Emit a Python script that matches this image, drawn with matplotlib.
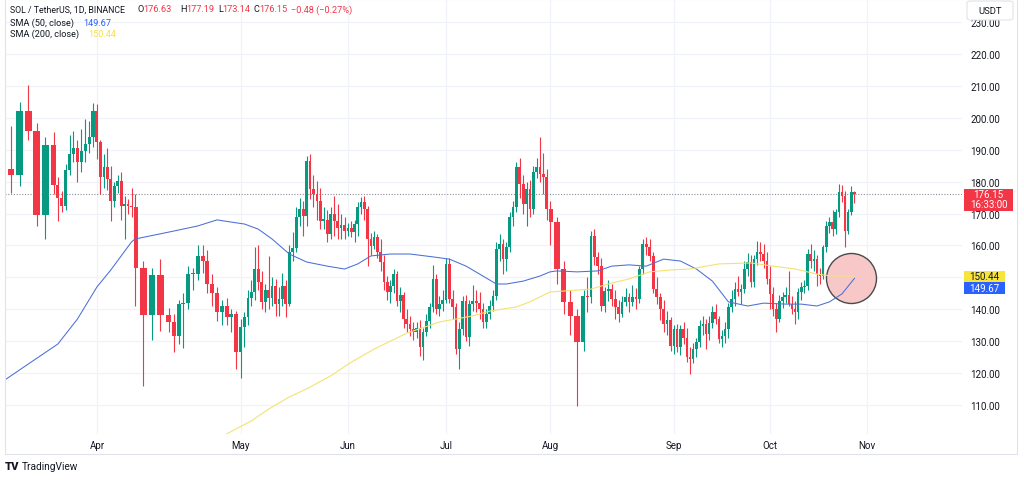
import numpy as np
import pandas as pd
import matplotlib
matplotlib.use('Agg')
import matplotlib.pyplot as plt
import matplotlib.dates as mdates
from matplotlib import transforms
from matplotlib.patches import Rectangle, FancyBboxPatch

plt.rcParams['font.family'] = ['Roboto', 'DejaVu Sans']

# SOL / TetherUS daily candles, 16 Mar - 28 Oct 2024
dates = pd.date_range('2024-03-16', '2024-10-28', freq='D')

opens = [
    184.0, 182.0, 202.0, 196.0, 169.5, 191.5, 179.0, 175.0, 172.5, 183.5, 188.5, 190.5, 186.0, 189.5, 191.8, 194.0,
    202.2, 192.4, 181.3, 184.7, 180.8, 174.0, 178.5, 180.3, 172.2, 173.0, 172.4, 172.0, 152.8, 138.2, 150.8,
    138.2, 136.0, 131.7, 141.6, 142.0, 150.9, 151.0, 156.8, 155.0, 147.8, 145.0, 139.1, 141.0, 137.6, 138.6,
    126.6, 134.5, 137.4, 143.5, 145.4, 152.6, 148.5, 142.2, 146.0, 143.5, 147.4, 141.6, 143.2, 147.4, 141.6,
    157.8, 159.2, 168.8, 171.5, 169.3, 186.6, 177.7, 176.0, 174.0, 167.8, 168.0, 163.6, 169.8, 167.5, 165.5, 166.5,
    164.5, 165.4, 164.3, 166.7, 172.0, 173.6, 171.4, 162.0, 159.9, 162.5, 157.8, 154.7, 148.4, 145.3, 147.4,
    151.0, 142.7, 144.5, 136.9, 135.3, 133.8, 133.0, 134.0, 128.0, 132.8, 136.4, 140.7, 149.5, 140.0, 141.5,
    143.0, 154.2, 143.2, 140.6, 127.5, 133.8, 142.7, 131.2, 141.6, 142.5, 142.0, 140.1, 135.9, 138.5, 141.1,
    144.2, 158.9, 160.4, 155.7, 159.4, 168.8, 172.0, 184.5, 179.2, 173.0, 177.7, 171.4, 183.0, 184.5, 182.4, 181.3,
    171.4, 167.2, 152.6, 142.2, 138.0, 129.6, 144.2, 143.7, 163.1, 156.3, 153.6, 141.1, 145.7, 146.3, 143.2,
    140.6, 138.5, 142.2, 143.7, 142.2, 143.7, 143.2, 152.6, 160.4, 159.4, 156.8, 146.3, 143.7, 140.1, 135.4, 136.5,
    128.6, 133.8, 128.1, 133.8, 131.0, 124.9, 124.4, 127.5, 129.6, 134.8, 135.3, 132.2, 135.8, 139.0, 136.9,
    130.7, 131.7, 133.8, 140.6, 143.2, 146.3, 145.3, 146.3, 152.6, 154.7, 148.4, 155.7, 157.8, 157.3, 155.2,
    149.5, 144.8, 140.1, 136.9, 142.7, 143.7, 144.5, 141.6, 140.1, 139.0, 145.3, 146.9, 147.4, 157.3,
    155.2, 155.7, 151.0, 150.4, 159.4, 166.2, 167.2, 165.1, 170.4, 176.7, 175.5, 164.6, 170.4, 176.63,
]
highs = [
    197.5, 205.0, 210.2, 198.5, 194.0, 195.5, 181.5, 177.0, 185.5, 194.5, 196.0, 193.0, 196.5, 199.5, 199.0, 204.5,
    204.3, 193.0, 188.5, 190.5, 185.0, 180.0, 182.0, 183.0, 175.5, 174.5, 178.0, 176.0, 155.0, 153.0, 155.7,
    140.5, 138.5, 143.0, 145.0, 153.5, 153.0, 160.0, 160.0, 158.5, 151.0, 147.0, 143.0, 143.5, 140.0, 139.5,
    137.0, 139.0, 146.0, 149.0, 159.4, 160.0, 152.0, 148.0, 156.8, 150.0, 149.5, 147.0, 151.5, 149.0, 160.0,
    164.2, 172.0, 175.0, 174.0, 188.1, 188.7, 182.0, 180.3, 178.0, 172.0, 171.0, 172.0, 175.6, 173.0, 170.0, 169.0,
    167.0, 167.5, 168.0, 173.5, 175.2, 175.5, 172.5, 164.0, 164.5, 163.5, 162.0, 157.0, 150.5, 149.0, 152.5,
    152.0, 147.0, 145.5, 140.0, 138.0, 136.0, 136.0, 136.5, 134.0, 138.5, 142.0, 154.0, 151.0, 144.0, 146.0,
    156.0, 156.0, 146.0, 142.0, 136.0, 144.0, 144.5, 143.0, 147.5, 146.0, 145.5, 142.0, 140.0, 143.0, 146.0,
    161.0, 163.5, 162.0, 161.0, 170.5, 174.0, 186.0, 187.5, 182.0, 180.0, 180.5, 185.0, 187.5, 193.9, 189.0, 184.0,
    174.0, 169.0, 155.0, 146.0, 140.0, 146.0, 150.0, 164.5, 165.0, 158.0, 156.0, 147.0, 149.0, 148.0, 146.0,
    143.0, 144.0, 146.5, 145.0, 147.5, 146.5, 153.5, 162.0, 162.5, 162.0, 158.0, 150.0, 145.0, 143.0, 139.5, 137.5,
    135.0, 135.5, 135.0, 136.0, 134.0, 128.0, 129.5, 131.0, 136.5, 138.0, 137.0, 138.0, 141.0, 141.5, 138.0,
    133.5, 136.0, 142.0, 146.0, 148.5, 150.5, 148.0, 155.0, 157.5, 157.0, 157.0, 161.5, 161.0, 160.5, 158.0,
    153.5, 147.0, 142.0, 144.5, 145.5, 147.0, 152.1, 144.0, 142.5, 146.5, 148.5, 149.0, 159.0, 160.5,
    158.5, 157.0, 153.0, 160.0, 167.5, 169.0, 171.0, 171.5, 179.2, 179.0, 177.0, 171.5, 178.7, 177.19,
]
lows = [
    176.5, 178.5, 193.0, 166.0, 162.0, 176.0, 167.5, 170.5, 171.0, 182.0, 186.0, 180.0, 183.0, 186.0, 189.0, 191.0,
    187.0, 176.0, 178.0, 177.5, 167.5, 172.0, 176.5, 168.0, 162.0, 170.0, 169.0, 141.0, 116.0, 130.5, 133.3,
    132.9, 126.6, 129.0, 127.7, 140.0, 146.0, 149.0, 151.5, 145.0, 141.0, 136.4, 135.0, 135.0, 133.0, 121.3,
    118.5, 128.0, 135.0, 141.0, 143.0, 146.0, 140.0, 139.0, 140.0, 141.0, 138.0, 138.0, 141.0, 137.6, 141.0,
    155.0, 158.0, 166.0, 163.0, 166.2, 174.5, 172.0, 168.0, 165.1, 165.0, 161.0, 162.0, 163.0, 162.0, 162.0, 162.0,
    163.0, 162.5, 161.0, 163.0, 170.0, 168.0, 153.5, 157.0, 159.0, 156.0, 152.0, 146.0, 143.0, 142.0, 145.0,
    141.0, 139.0, 134.0, 133.0, 131.5, 130.5, 131.0, 125.4, 124.0, 131.5, 134.0, 139.0, 138.5, 138.0, 139.5,
    142.0, 142.0, 137.0, 126.0, 121.3, 132.0, 130.0, 128.5, 139.5, 139.0, 137.0, 134.0, 134.0, 137.0, 139.5,
    143.0, 155.0, 151.0, 152.0, 158.0, 166.0, 170.5, 175.0, 170.0, 166.0, 169.0, 170.0, 181.0, 180.0, 176.0, 168.0,
    160.0, 148.0, 138.5, 132.0, 109.8, 127.0, 139.0, 142.0, 154.0, 151.0, 139.5, 139.0, 142.5, 141.0, 137.0,
    136.0, 137.5, 141.0, 139.0, 141.0, 140.0, 142.0, 151.0, 157.0, 155.0, 145.0, 141.5, 136.5, 133.0, 132.0, 127.0,
    126.0, 126.5, 125.5, 129.0, 123.5, 119.7, 123.0, 125.0, 128.0, 132.0, 127.5, 130.5, 134.0, 135.5, 129.5,
    128.0, 129.5, 131.0, 139.0, 141.0, 144.0, 141.5, 145.0, 150.5, 147.0, 147.0, 154.0, 155.0, 153.0, 148.0,
    140.0, 138.0, 133.0, 136.0, 140.5, 142.0, 141.0, 138.5, 135.4, 137.0, 143.0, 145.0, 146.0, 153.0,
    152.0, 147.4, 148.0, 149.5, 158.0, 164.0, 163.0, 163.5, 169.0, 173.5, 159.4, 163.5, 169.5, 173.14,
]
closes = [
    182.0, 202.0, 196.0, 169.5, 191.5, 179.0, 175.0, 172.5, 183.5, 188.5, 190.5, 186.0, 189.5, 191.8, 194.0, 202.2,
    192.4, 181.3, 184.7, 180.8, 174.0, 178.5, 180.3, 172.2, 173.0, 172.4, 172.0, 152.8, 138.2, 150.8, 138.2,
    136.0, 131.7, 141.6, 142.0, 150.9, 151.0, 156.8, 155.0, 147.8, 145.0, 139.1, 141.0, 137.6, 138.6, 126.6,
    134.5, 137.4, 143.5, 145.4, 152.6, 148.5, 142.2, 146.0, 143.5, 147.4, 141.6, 143.2, 147.4, 141.6, 157.8,
    159.2, 168.8, 171.5, 169.3, 186.6, 177.7, 176.0, 174.0, 167.8, 168.0, 163.6, 169.8, 167.5, 165.5, 166.5, 164.5,
    165.4, 164.3, 166.7, 172.0, 173.6, 171.4, 162.0, 159.9, 162.5, 157.8, 154.7, 148.4, 145.3, 147.4, 151.0,
    142.7, 144.5, 136.9, 135.3, 133.8, 133.0, 134.0, 128.0, 132.8, 136.4, 140.7, 149.5, 140.0, 141.5, 143.0,
    154.2, 143.2, 140.6, 127.5, 133.8, 142.7, 131.2, 141.6, 142.5, 142.0, 140.1, 135.9, 138.5, 141.1, 144.2,
    158.9, 160.4, 155.7, 159.4, 168.8, 172.0, 184.5, 179.2, 173.0, 177.7, 171.4, 183.0, 184.5, 182.4, 181.3, 171.4,
    167.2, 152.6, 142.2, 138.0, 129.6, 144.2, 143.7, 163.1, 156.3, 153.6, 141.1, 145.7, 146.3, 143.2, 140.6,
    138.5, 142.2, 143.7, 142.2, 143.7, 143.2, 152.6, 160.4, 159.4, 156.8, 146.3, 143.7, 140.1, 135.4, 136.5, 128.6,
    133.8, 128.1, 133.8, 131.0, 124.9, 124.4, 127.5, 129.6, 134.8, 135.3, 132.2, 135.8, 139.0, 136.9, 130.7,
    131.7, 133.8, 140.6, 143.2, 146.3, 145.3, 146.3, 152.6, 154.7, 148.4, 155.7, 157.8, 157.3, 155.2, 149.5,
    144.8, 140.1, 136.9, 142.7, 143.7, 144.5, 141.6, 140.1, 139.0, 145.3, 146.9, 147.4, 157.3, 155.2,
    155.7, 151.0, 150.4, 159.4, 166.2, 167.2, 165.1, 170.4, 176.7, 175.5, 164.6, 170.4, 176.63, 176.15,
]

# moving averages as drawn on the chart
sma50_dates = ['2024-03-15', '2024-03-18', '2024-03-22', '2024-03-27', '2024-04-01', '2024-04-05', '2024-04-11',
               '2024-04-12', '2024-04-17', '2024-04-22', '2024-04-26', '2024-04-29', '2024-05-02', '2024-05-06',
               '2024-05-10', '2024-05-15', '2024-05-20', '2024-05-26', '2024-05-31', '2024-06-04', '2024-06-08',
               '2024-06-14', '2024-06-20', '2024-06-27', '2024-07-02', '2024-07-07', '2024-07-12', '2024-07-16',
               '2024-07-19', '2024-07-24', '2024-07-29', '2024-08-01', '2024-08-02', '2024-08-05', '2024-08-10',
               '2024-08-14', '2024-08-19', '2024-08-24', '2024-08-29', '2024-09-03', '2024-09-08', '2024-09-13',
               '2024-09-18', '2024-09-24', '2024-09-29', '2024-10-06', '2024-10-11', '2024-10-16', '2024-10-20',
               '2024-10-24', '2024-10-28']
sma50_vals = [117.3, 122.8, 129.1, 136.9, 147.0, 152.3, 161.1, 162.0, 164.5, 166.1, 168.0, 167.3, 166.7, 165.1,
              162.0, 157.3, 154.8, 153.5, 152.6, 154.2, 156.7, 157.3, 157.3, 156.4, 155.7, 153.5, 150.4, 147.9,
              147.9, 148.8, 150.4, 151.7, 152.0, 151.7, 152.0, 153.5, 153.9, 153.5, 155.7, 155.1, 152.6, 148.8,
              142.3, 141.0, 141.9, 141.6, 141.6, 141.0, 142.3, 144.8, 149.67]

sma200_dates = ['2024-04-28', '2024-05-04', '2024-05-09', '2024-05-15', '2024-05-20', '2024-05-27', '2024-06-02',
                '2024-06-09', '2024-06-19', '2024-06-29', '2024-07-09', '2024-07-14', '2024-07-22', '2024-07-26',
                '2024-08-01', '2024-08-03', '2024-08-08', '2024-08-13', '2024-08-19', '2024-08-25', '2024-08-31',
                '2024-09-06', '2024-09-15', '2024-09-25', '2024-10-02', '2024-10-09', '2024-10-16', '2024-10-21',
                '2024-10-28']
sma200_vals = [100.9, 105.0, 108.7, 112.5, 115.0, 119.1, 123.4, 127.5, 132.5, 136.0, 137.9, 139.4, 140.7, 142.3,
               145.4, 145.7, 146.3, 147.9, 149.5, 151.7, 152.3, 152.6, 154.2, 154.5, 153.5, 152.6, 151.0, 150.4,
               150.44]

price_ticks = list(range(110, 240, 10))
month_ticks = pd.date_range('2024-04-01', '2024-11-01', freq='MS')
month_labels = ['Apr', 'May', 'Jun', 'Jul', 'Aug', 'Sep', 'Oct', 'Nov']

# the screenshot's time axis is unevenly stretched: date -> pixel anchors
anchor_dates = ['2024-03-06', '2024-03-16', '2024-03-21', '2024-03-31', '2024-04-01', '2024-04-12', '2024-04-16',
                '2024-05-01', '2024-06-01', '2024-07-01', '2024-08-01', '2024-08-06', '2024-09-01', '2024-10-01',
                '2024-11-01', '2024-12-11']
anchor_px = [-75, 11, 54, 93, 97, 135, 169, 241, 348, 446, 550, 584, 674, 770, 867, 995]

GREEN = '#089981'
RED = '#f23645'
TXT = '#131722'
W, H = 1024, 481

anchor_num = mdates.date2num(pd.to_datetime(anchor_dates))
anchor_px = np.array(anchor_px, dtype=float)


def fwd(x):
    return np.interp(x, anchor_num, anchor_px)


def inv(x):
    return np.interp(x, anchor_px, anchor_num)


fig = plt.figure(figsize=(W / 100, H / 100), dpi=100)
ax = fig.add_axes([5 / W, 46 / H, 957 / W, 435 / H])
ax.set_xscale('function', functions=(fwd, inv))

x = mdates.date2num(dates)
o = np.array(opens)
h = np.array(highs)
l = np.array(lows)
c = np.array(closes)
up = c >= o
cols = np.where(up, GREEN, RED)

# candles
ax.vlines(x, l, h, colors=cols, linewidth=0.8, zorder=3)
body = np.maximum(np.abs(c - o), 0.35)
ax.bar(x, body, bottom=np.minimum(o, c), width=0.8, color=cols, linewidth=0, zorder=4)

# highlight circle at the crossing
ax.plot(x[-2], sma50_vals[-1], 'o', markersize=36, markerfacecolor='#f8c8c8',
        markeredgecolor='#4a4a4a', markeredgewidth=1.0, zorder=2)

# moving averages
ax.plot(mdates.date2num(pd.to_datetime(sma50_dates)), sma50_vals, color='#4a6fd6', linewidth=0.75, zorder=5)
ax.plot(mdates.date2num(pd.to_datetime(sma200_dates)), sma200_vals, color='#f3e272', linewidth=0.8, zorder=5)

# last price line
ax.axhline(c[-1], color='#8c8f99', linewidth=0.8, linestyle=(0, (1, 1.5)), zorder=1)

ax.set_xlim(inv(5), inv(962))
ax.set_ylim(100.88, 237.24)

ax.set_xticks(mdates.date2num(month_ticks))
ax.set_xticklabels(month_labels)
ax.yaxis.tick_right()
ax.set_yticks(price_ticks)
ax.set_yticklabels([f'{v:.2f}' for v in price_ticks])
ax.tick_params(axis='x', length=0, pad=4.5, labelsize=7, labelcolor=TXT)
ax.tick_params(axis='y', length=0, pad=6, labelsize=7, labelcolor=TXT)
ax.grid(True, color='#f0f3fa', linewidth=0.9, zorder=0)
ax.set_axisbelow(True)
for s in ax.spines.values():
    s.set_visible(False)

# price tags on the right scale
tr = transforms.blended_transform_factory(ax.transAxes, ax.transData)
x0 = (964 - 5) / 957
ax.add_patch(Rectangle((x0, c[-1] - 5.3), 49 / 957, 6.9, transform=tr, facecolor=RED,
                       edgecolor='none', clip_on=False, zorder=6))
ax.text(x0 + 24.5 / 957, c[-1], f'{c[-1]:.2f}', transform=tr, ha='center', va='center',
        color='white', fontsize=7, clip_on=False, zorder=7)
ax.text(x0 + 24.5 / 957, c[-1] - 3.3, '16:33:00', transform=tr, ha='center', va='center',
        color='white', fontsize=7, clip_on=False, zorder=7)

ax.add_patch(Rectangle((x0, sma200_vals[-1] - 1.91), 41 / 957, 3.6, transform=tr, facecolor='#f7e43c',
                       edgecolor='none', clip_on=False, zorder=6))
ax.text(x0 + 20.5 / 957, sma200_vals[-1] - 0.11, f'{sma200_vals[-1]:.2f}', transform=tr, ha='center',
        va='center', color=TXT, fontsize=7, clip_on=False, zorder=7)
ax.add_patch(Rectangle((x0, sma50_vals[-1] - 4.91), 41 / 957, 3.77, transform=tr, facecolor='#2962ff',
                       edgecolor='none', clip_on=False, zorder=6))
ax.text(x0 + 20.5 / 957, sma50_vals[-1] - 3.03, f'{sma50_vals[-1]:.2f}', transform=tr, ha='center',
        va='center', color='white', fontsize=7, clip_on=False, zorder=7)

# outer frame
fig.add_artist(Rectangle((5 / W, 1 - 455 / H), 1012 / W, 455 / H, transform=fig.transFigure,
                         fill=False, edgecolor='#e0e3eb', linewidth=0.8, zorder=1))

# currency box
fig.add_artist(FancyBboxPatch((967 / W, 1 - 21 / H), 46 / W, 19 / H, transform=fig.transFigure,
                              boxstyle='round,pad=0,rounding_size=0.004', facecolor='white',
                              edgecolor='#e0e3eb', linewidth=0.8, zorder=5))
fig.text(990 / W, 1 - 11.5 / H, 'USDT', ha='center', va='center', fontsize=6.8, color=TXT, zorder=6)


def ftext(px, py, s, size=6.6, **kw):
    fig.text(px / W, 1 - py / H, s, va='center', ha='left', fontsize=size, zorder=6, **kw)


# header legend
ftext(10, 10, 'SOL / TetherUS, 1D, BINANCE', size=6.3, color=TXT)
chg = c[-1] - o[-1]
pieces = [(138, 'O', TXT), (143.5, f'{o[-1]:.2f}', RED), (180.5, 'H', TXT), (186, f'{h[-1]:.2f}', RED),
          (218, 'L', TXT), (222.5, f'{l[-1]:.2f}', RED), (254, 'C', TXT), (259, f'{c[-1]:.2f}', RED),
          (291, f'\u2212{abs(chg):.2f} (\u2212{abs(chg) / o[-1] * 100:.2f}%)', RED)]
for px_, s_, col in pieces:
    ftext(px_, 10, s_, color=col)
ftext(10, 23, 'SMA (50, close)', color=TXT)
ftext(83, 23, f'{sma50_vals[-1]:.2f}', color='#2962ff')
ftext(10, 34.5, 'SMA (200, close)', color=TXT)
ftext(88, 34.5, f'{sma200_vals[-1]:.2f}', color='#f5e04a')

# watermark
fig.text(5 / W, 1 - 467 / H, 'TV', va='center', ha='left', fontsize=8, fontweight='black', color=TXT)
fig.text(22 / W, 1 - 467 / H, 'TradingView', va='center', ha='left', fontsize=7.3, color=TXT)

fig.savefig('out.png', dpi=100)
